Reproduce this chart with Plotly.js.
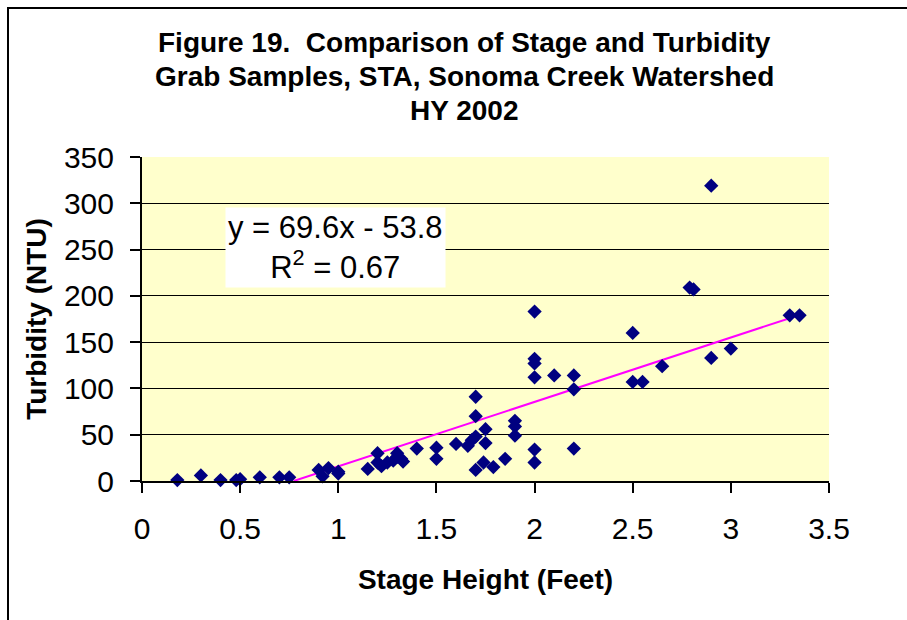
<!DOCTYPE html>
<html>
<head>
<meta charset="utf-8">
<script src="https://cdn.plot.ly/plotly-3.0.1.min.js"></script>
<style>
  html, body { margin: 0; padding: 0; background: #ffffff; }
  #wrap { position: relative; width: 907px; height: 620px; overflow: hidden; }
  #chart { position: absolute; left: 0; top: 0; width: 907px; height: 620px; }
  #frame { position: absolute; left: 7px; top: 7px; width: 905px; height: 620px;
           border-top: 2px solid #000; border-left: 2px solid #000; pointer-events: none; }
</style>
</head>
<body>
<div id="wrap">
  <div id="chart"></div>
  <div id="frame"></div>
</div>
<script>
// Stage height (feet) of each grab sample
const stageFeet = [
  0.18, 0.30, 0.40, 0.48, 0.50, 0.60, 0.70, 0.75,
  0.90, 0.92, 0.95, 1.00, 1.00,
  1.15, 1.20, 1.20, 1.22, 1.25, 1.28, 1.30, 1.30, 1.32, 1.33,
  1.40, 1.50, 1.50, 1.60, 1.66, 1.68,
  1.70, 1.70, 1.70, 1.70, 1.75, 1.75, 1.74, 1.79, 1.85,
  1.90, 1.90, 1.90,
  2.00, 2.00, 2.00, 2.00, 2.00, 2.00,
  2.10, 2.20, 2.20, 2.20,
  2.50, 2.50, 2.55, 2.65, 2.79, 2.81, 2.90, 2.90, 3.00, 3.30, 3.35
];
// Turbidity (NTU) of each grab sample
const turbidityNTU = [
  1, 6, 1, 1, 2, 4, 4, 4,
  12, 5, 14, 8, 10,
  13, 30, 20, 16, 20, 22, 30, 26, 24, 21,
  35, 36, 24, 40, 38, 44,
  91, 70, 48, 12, 56, 41, 20, 15, 24,
  65, 59, 49,
  183, 132, 127, 112, 34, 20,
  114, 114, 99, 35,
  160, 107, 107, 124, 209, 207, 319, 133, 143, 179, 179
];
// Linear trendline reported on the chart
const trendSlope = 69.6;
const trendIntercept = -53.8;
const trendR2 = 0.67;
const titleLines = [
  "Figure 19.  Comparison of Stage and Turbidity",
  "Grab Samples, STA, Sonoma Creek Watershed",
  "HY 2002"
];
const xTicks = [0, 0.5, 1, 1.5, 2, 2.5, 3, 3.5];
const xTickLabels = ["0", "0.5", "1", "1.5", "2", "2.5", "3", "3.5"];
const yTicks = [0, 50, 100, 150, 200, 250, 300, 350];
const yTickLabels = ["0", "50", "100", "150", "200", "250", "300", "350"];

const xStart = -trendIntercept / trendSlope;
const xEnd = Math.max(...stageFeet);
const trendX = [xStart, xEnd];
const trendY = trendX.map(v => trendSlope * v + trendIntercept);

const FONT = "Arial, 'Liberation Sans', Helvetica, sans-serif";

const traces = [
  {
    x: trendX, y: trendY, type: "scatter", mode: "lines",
    line: { color: "#FF00FF", width: 2 },
    hoverinfo: "skip", showlegend: false
  },
  {
    x: stageFeet, y: turbidityNTU, type: "scatter", mode: "markers",
    marker: { symbol: "diamond", size: 11, color: "#000080", line: { width: 0 } },
    cliponaxis: false, showlegend: false
  }
];

const titleY = [1.352, 1.247, 1.145];
const annotations = titleLines.map((t, i) => ({
  text: "<b>" + t + "</b>", xref: "paper", yref: "paper",
  x: 0.469, y: titleY[i], xanchor: "center", yanchor: "middle",
  showarrow: false, font: { family: FONT, size: 28, color: "#000" }
}));
annotations.push({
  text: "y = " + trendSlope + "x - " + Math.abs(trendIntercept) + "<br>R<sup>2</sup> = " + trendR2,
  xref: "x", yref: "y", x: 0.985, y: 252, xanchor: "center", yanchor: "middle",
  showarrow: false, bgcolor: "#FFFFFF", borderpad: 2, align: "center",
  font: { family: FONT, size: 31, color: "#000" }
});

const layout = {
  width: 907, height: 620,
  margin: { l: 142, r: 78, t: 157, b: 139, pad: 0 },
  paper_bgcolor: "#FFFFFF",
  plot_bgcolor: "#FFFFCC",
  font: { family: FONT, color: "#000" },
  showlegend: false,
  xaxis: {
    range: [0, 3.5], tickvals: xTicks, ticktext: xTickLabels,
    showgrid: false, zeroline: false,
    showline: true, linecolor: "#000", linewidth: 2,
    ticks: "outside", ticklen: 10, tickwidth: 2, tickcolor: "#000",
    tickfont: { family: FONT, size: 30, color: "#000" },
    ticklabelstandoff: 10,
    title: { text: "<b>Stage Height (Feet)</b>", font: { family: FONT, size: 28, color: "#000" }, standoff: 25 }
  },
  yaxis: {
    range: [0, 350], tickvals: yTicks, ticktext: yTickLabels,
    showgrid: true, gridcolor: "#000", gridwidth: 1, zeroline: false,
    showline: true, linecolor: "#000", linewidth: 2,
    ticks: "outside", ticklen: 10, tickwidth: 2, tickcolor: "#000",
    tickfont: { family: FONT, size: 30, color: "#000" },
    ticklabelstandoff: 10,
    title: { text: "<b>Turbidity (NTU)</b>", font: { family: FONT, size: 28, color: "#000" }, standoff: 9 }
  },
  annotations: annotations
};

Plotly.newPlot("chart", traces, layout, { displayModeBar: false, staticPlot: true });
</script>
</body>
</html>
